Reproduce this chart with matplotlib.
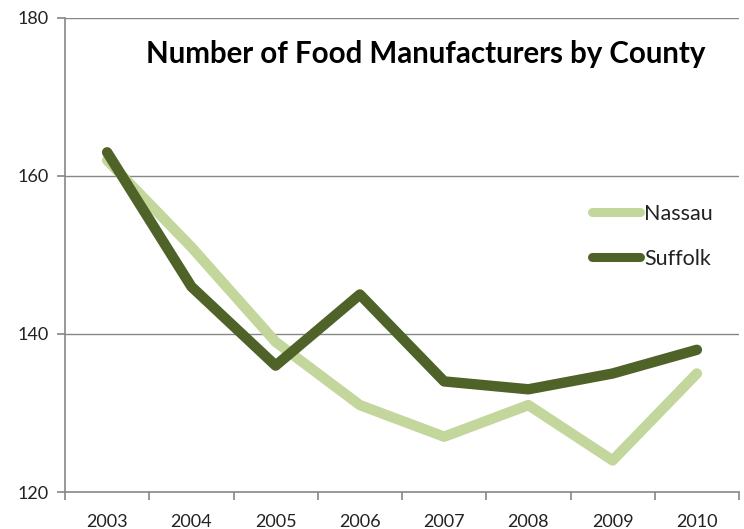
import matplotlib
matplotlib.use("Agg")
import matplotlib.pyplot as plt

years = ["2003", "2004", "2005", "2006", "2007", "2008", "2009", "2010"]
nassau = [162, 151, 139, 131, 127, 131, 124, 135]
suffolk = [163, 146, 136, 145, 134, 133, 135, 138]
yticks = [120, 140, 160, 180]
title = "Number of Food Manufacturers by County"

plt.rcParams['font.family'] = ['Lato', 'DejaVu Sans']

fig = plt.figure(figsize=(7.44, 5.29), dpi=100)
W, H = 744, 529
ax = fig.add_axes([65 / W, 1 - 492 / H, (739 - 65) / W, (492 - 18) / H])

grey = "#868686"
light = "#c3d69b"
dark = "#4f6228"
x = list(range(len(years)))

ax.plot(x, nassau, color=light, lw=7.5, solid_capstyle="round", solid_joinstyle="round", label="Nassau", zorder=3)
ax.plot(x, suffolk, color=dark, lw=7.5, solid_capstyle="round", solid_joinstyle="round", label="Suffolk", zorder=4)

ax.set_xlim(-0.5, len(years) - 0.5)
ax.set_ylim(120, 180)
ax.set_yticks(yticks)
ax.set_yticklabels([str(v) for v in yticks])
ax.set_xticks(x)
ax.set_xticklabels(years)
ax.set_xticks([i - 0.5 for i in range(len(years) + 1)], minor=True)

for v in yticks[1:]:
    ax.axhline(v, color=grey, lw=1.0, zorder=1)

for s in ["top", "right"]:
    ax.spines[s].set_visible(False)
for s in ["left", "bottom"]:
    ax.spines[s].set_color(grey)
    ax.spines[s].set_linewidth(1.2)

ax.tick_params(axis="x", which="major", length=0, pad=16, labelsize=13, labelcolor="#222222")
ax.tick_params(axis="x", which="minor", length=6, color=grey, width=1.2)
ax.tick_params(axis="y", length=6, color=grey, width=1.2, pad=6, labelsize=13, labelcolor="#222222")

leg = ax.legend(loc="upper left", bbox_to_anchor=((592 - 65) / (739 - 65), 1 - (204 - 18) / (492 - 18)),
                frameon=False, fontsize=15.5, handlelength=2.25, handletextpad=0.18,
                labelspacing=1.15, borderaxespad=0, borderpad=0)
for ln in leg.get_lines():
    ln.set_linewidth(6.5)
for txt in leg.get_texts():
    txt.set_color("#222222")

t = ax.text((426 - 65) / (739 - 65), 1 - (54 - 18) / (492 - 18), title, transform=ax.transAxes,
            ha="center", va="center", fontsize=20, fontweight="bold", color="#000000")
fig.canvas.draw()
bb = t.get_window_extent()
t.set_fontsize(20 * 562 / bb.width)

fig.savefig("out.png", dpi=100)
